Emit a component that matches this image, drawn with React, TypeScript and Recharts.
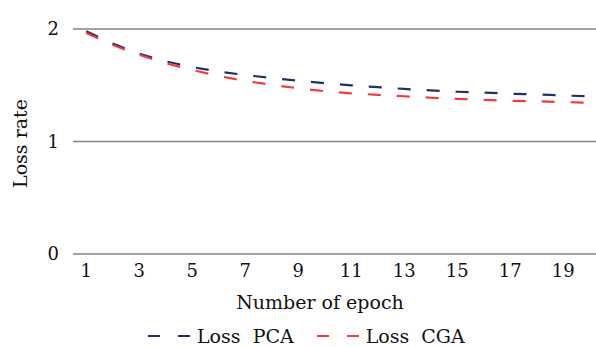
import React from 'react';
import { LineChart, Line, XAxis, YAxis, CartesianGrid, Legend } from 'recharts';

const epochs = [1, 2, 3, 4, 5, 6, 7, 8, 9, 10, 11, 12, 13, 14, 15, 16, 17, 18, 19, 20];
const lossPCA = [1.98, 1.87, 1.78, 1.712, 1.661, 1.622, 1.591, 1.564, 1.54, 1.518, 1.499, 1.483, 1.467, 1.454, 1.442, 1.434, 1.425, 1.418, 1.409, 1.401];
const lossCGA = [1.965, 1.857, 1.77, 1.695, 1.636, 1.582, 1.538, 1.504, 1.473, 1.447, 1.428, 1.415, 1.402, 1.389, 1.379, 1.37, 1.362, 1.357, 1.351, 1.344];
const xTicks = [1, 3, 5, 7, 9, 11, 13, 15, 17, 19];
const yTicks = [0, 1, 2];
const seriesNames = ['Loss  PCA', 'Loss  CGA'];
const seriesColors = ['#1f3261', '#f23a3a'];

const data = epochs.map((e, i) => ({ epoch: e, pca: lossPCA[i], cga: lossCGA[i] }));

const FONT = '"DejaVu Serif", serif';
const TXT = '#111';

const YLabel = (props: any) => {
  const vb = props.viewBox || {};
  const cx = 20;
  const cy = vb.y + vb.height / 2 + 2;
  return (
    <text x={cx} y={cy} transform={`rotate(-90 ${cx} ${cy})`} textAnchor="middle" dominantBaseline="central"
      fontFamily={FONT} fontSize={19} fill={TXT}>Loss rate</text>
  );
};

const XLabel = (props: any) => {
  const vb = props.viewBox || {};
  return (
    <text x={vb.x + vb.width / 2 - 18} y={vb.y + 48} textAnchor="middle" dominantBaseline="central"
      fontFamily={FONT} fontSize={19} fill={TXT}>Number of epoch</text>
  );
};

const renderLegend = (props: any) => {
  const payload = [...(props.payload || [])].sort(
    (a: any, b: any) => seriesNames.indexOf(a.value) - seriesNames.indexOf(b.value)
  );
  return (
    <div style={{ height: 26, display: 'flex', alignItems: 'center', paddingLeft: 148, fontFamily: FONT, fontSize: 19, lineHeight: '20px', color: TXT, position: 'relative', top: 2 }}>
      {payload.map((p: any, i: number) => (
        <div key={i} style={{ display: 'flex', alignItems: 'center', marginRight: 23 }}>
          <svg width={42} height={10}>
            <line x1={0} y1={5} x2={42} y2={5} stroke={p.color} strokeWidth={2} strokeDasharray="12 18" />
          </svg>
          <span style={{ whiteSpace: 'pre', marginLeft: 7 }}>{p.value}</span>
        </div>
      ))}
    </div>
  );
};

export default function App() {
  return (
    <div style={{ position: 'absolute', left: 0, top: 0, width: 596, height: 347, overflow: 'hidden', background: '#fff' }}>
      <LineChart width={604} height={347} data={data} margin={{ top: 29, right: 1, left: 0, bottom: 0 }}>
        <CartesianGrid vertical={false} stroke="#858585" strokeWidth={1.4} />
        <XAxis dataKey="epoch" type="number" domain={[0.5, 20.5]} ticks={xTicks} interval={0}
          axisLine={false} tickLine={false} tickSize={0} tickMargin={10} height={67}
          tick={{ fontFamily: FONT, fontSize: 18, fill: TXT }} label={<XLabel />} />
        <YAxis domain={[0, 2]} ticks={yTicks} width={73} axisLine={false} tickLine={false} tickSize={0} tickMargin={14}
          tick={{ fontFamily: FONT, fontSize: 18, fill: TXT }} label={<YLabel />} />
        <Legend verticalAlign="bottom" content={renderLegend} />
        <Line dataKey="pca" name={seriesNames[0]} stroke={seriesColors[0]} strokeWidth={2.2} strokeDasharray="13 16" dot={false} isAnimationActive={false} />
        <Line dataKey="cga" name={seriesNames[1]} stroke={seriesColors[1]} strokeWidth={2.2} strokeDasharray="13 16" dot={false} isAnimationActive={false} />
      </LineChart>
    </div>
  );
}
